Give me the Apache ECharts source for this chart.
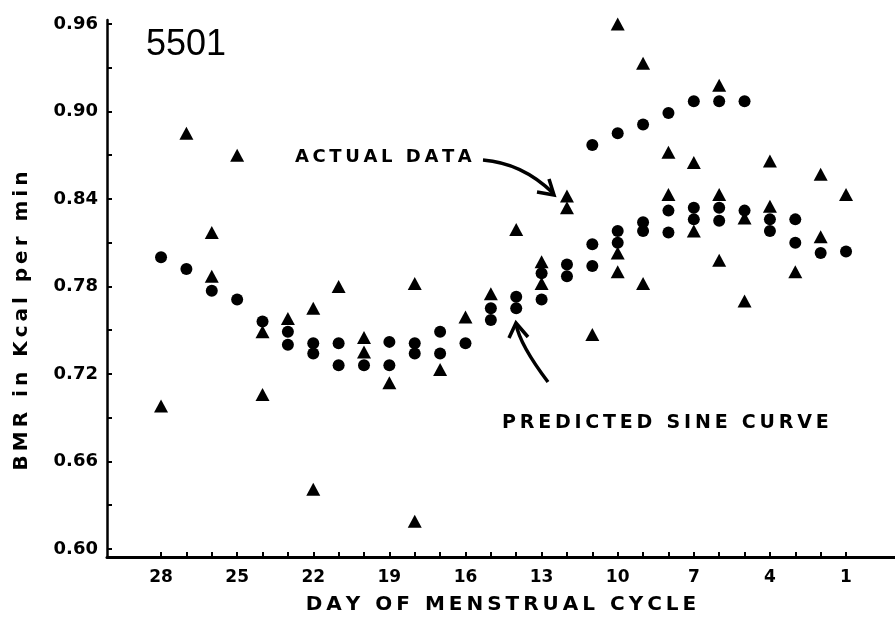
<!DOCTYPE html>
<html>
<head>
<meta charset="utf-8">
<script src="https://cdn.jsdelivr.net/npm/echarts@6/dist/echarts.min.js"></script>
<style>
html,body{margin:0;padding:0;background:#fff;}
#chart{width:895px;height:630px;}
</style>
</head>
<body>
<div id="chart"></div>
<script>
// ---- data ----
const circleDay = [28,27,26,25,24,23,23,22,22,21,21,20,19,19,18,18,17,17,16,15,15,14,14,13,13,12,12,11,11,11,10,10,10,9,9,9,8,8,8,7,7,7,6,6,6,5,5,4,4,3,3,2,1];
const circleBMR = [0.800,0.792,0.777,0.771,0.756,0.749,0.740,0.741,0.734,0.741,0.726,0.726,0.742,0.726,0.741,0.734,0.749,0.734,0.741,0.765,0.757,0.773,0.765,0.789,0.771,0.795,0.787,0.877,0.809,0.794,0.885,0.818,0.810,0.891,0.824,0.818,0.899,0.832,0.817,0.907,0.834,0.826,0.907,0.834,0.825,0.907,0.832,0.826,0.818,0.826,0.810,0.803,0.804];
const triangleDay = [28,27,26,26,25,24,24,23,22,22,21,20,20,19,18,18,17,16,15,14,13,13,12,12,11,10,10,10,9,9,8,8,7,7,6,6,6,5,5,4,4,3,2,2,1];
const triangleBMR = [0.698,0.885,0.817,0.787,0.870,0.749,0.706,0.758,0.765,0.641,0.780,0.745,0.735,0.714,0.782,0.619,0.723,0.759,0.775,0.819,0.797,0.782,0.842,0.834,0.747,0.960,0.803,0.790,0.933,0.782,0.872,0.843,0.865,0.818,0.918,0.843,0.798,0.827,0.770,0.866,0.835,0.790,0.857,0.814,0.843];
const dayTicks = [28,27,26,25,24,23,22,21,20,19,18,17,16,15,14,13,12,11,10,9,8,7,6,5,4,3,2,1];
const dayLabels = [28,25,22,19,16,13,10,7,4,1];
const bmrTicks = [0.60,0.63,0.66,0.69,0.72,0.75,0.78,0.81,0.84,0.87,0.90,0.93,0.96];
const bmrLabels = [0.60,0.66,0.72,0.78,0.84,0.90,0.96];

const FONT = 'DejaVu Sans';
function spaced(s){ // widen lettering like the original stencil text
  return s.split(' ').map(w => w.split('').join('\u2009')).join('\u2009\u2009 ');
}

const chart = echarts.init(document.getElementById('chart'), null, {renderer:'canvas'});
const option = {
  animation:false,
  backgroundColor:'#fff',
  grid:{left:107, right:0, top:20, bottom:73, containLabel:false},
  xAxis:{
    type:'value', inverse:true, min:-0.93, max:30.13,
    splitLine:{show:false},
    axisLine:{onZero:false, lineStyle:{color:'#000', width:3}},
    axisTick:{inside:true, length:5, lineStyle:{color:'#000', width:2}, customValues:dayTicks},
    axisLabel:{customValues:dayLabels, margin:12, color:'#000', fontFamily:FONT, fontWeight:'bold', fontSize:17},
    name:spaced('DAY OF MENSTRUAL CYCLE'), nameLocation:'middle', nameGap:38,
    nameTextStyle:{color:'#000', fontFamily:FONT, fontWeight:'bold', fontSize:20}
  },
  yAxis:{
    type:'value', min:0.5945, max:0.9627, position:'left',
    splitLine:{show:false},
    axisLine:{onZero:false, lineStyle:{color:'#000', width:2.5}},
    axisTick:{inside:true, length:5, lineStyle:{color:'#000', width:2}, customValues:bmrTicks},
    axisLabel:{customValues:bmrLabels, margin:9, color:'#000', fontFamily:FONT, fontWeight:'bold', fontSize:18,
      formatter:v => v.toFixed(2)}
  },
  series:[
    {type:'scatter', name:'circles', symbol:'circle', symbolSize:12, itemStyle:{color:'#000', opacity:1},
     data:circleDay.map((d,i)=>[d, circleBMR[i]])},
    {type:'scatter', name:'triangles', symbol:'triangle', symbolSize:[14,13], itemStyle:{color:'#000', opacity:1},
     data:triangleDay.map((d,i)=>[d, triangleBMR[i]])}
  ],
  graphic:[
    {type:'text', left:146, top:27, style:{text:'5501', fill:'#000', font:'36px "Liberation Sans"'}},
    {type:'text', x:22, y:321, rotation:Math.PI/2, style:{text:spaced('BMR in Kcal per min'), fill:'#000', font:'bold 20px "DejaVu Sans"', textAlign:'center', textVerticalAlign:'middle'}},
    {type:'text', x:295, y:157, style:{text:spaced('ACTUAL DATA'), fill:'#000', font:'bold 18px "DejaVu Sans"', textVerticalAlign:'middle'}},
    {type:'text', x:502, y:423, style:{text:spaced('PREDICTED SINE CURVE'), fill:'#000', font:'bold 19px "DejaVu Sans"', textVerticalAlign:'middle'}},
    {type:'bezierCurve', shape:{x1:483, y1:160, cpx1:522, cpy1:163, x2:553, y2:193}, style:{stroke:'#000', lineWidth:3.5, fill:null}},
    {type:'polyline', shape:{points:[[537,192],[554,195],[549,179]]}, style:{stroke:'#000', lineWidth:3.5, fill:null}},
    {type:'bezierCurve', shape:{x1:548, y1:382, cpx1:520, cpy1:345, x2:516, y2:324}, style:{stroke:'#000', lineWidth:3.5, fill:null}},
    {type:'polyline', shape:{points:[[509,338],[516,323],[528,337]]}, style:{stroke:'#000', lineWidth:3.5, fill:null}}
  ]
};
chart.setOption(option);
</script>
</body>
</html>
